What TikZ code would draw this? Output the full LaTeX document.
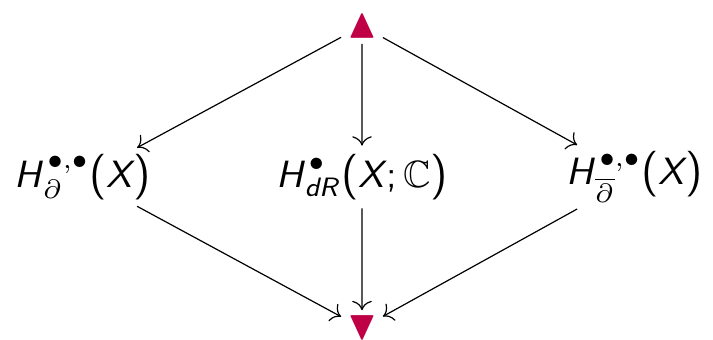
\documentclass[tikz,border=0pt]{standalone}
\usepackage{amsmath,amssymb}
\definecolor{mlred}{RGB}{192,0,70}
\usetikzlibrary{arrows.meta,positioning}
\newcommand{\sfi}[1]{\text{\sffamily\slshape #1\kern0.5pt}}
\newcommand{\sfu}[1]{\text{\sffamily #1}}
\newcommand{\bpar}[1]{\text{\sffamily\fontsize{12}{12}\selectfont\raisebox{-0.3pt}{#1}}}

\begin{document}
\begin{tikzpicture}[
  x=0.5pt, y=-0.5pt,
  cnode/.style={font=\normalsize, scale=1.9, transform shape, inner sep=1pt},
  tnode/.style={font=\huge, text=mlred, inner sep=1pt},
  arr/.style={-{To[scale=1.6]}, line width=0.6pt, shorten <=2pt, shorten >=2pt}
]
\useasboundingbox (0,0) rectangle (713,340);

% Triangles
\node[tnode] (top) at (362,26) {$\blacktriangle$};
\node[tnode] (bot) at (362,328) {$\blacktriangledown$};

% Cohomology nodes
\node[cnode] (dol)  at (83,177)
  {$\sfi{H}^{\kern1pt\bullet,\bullet}_{\partial}\bpar{(}\sfi{X}\bpar{)}$};
\node[cnode] (dR)   at (362,177)
  {$\sfi{H}^{\kern1pt\bullet}_{\sfi{dR}}\bpar{(}\sfi{X}\sfu{;}\,\mathbb{C}\bpar{)}$};
\node[cnode] (dolb) at (635,177)
  {$\sfi{H}^{\kern1pt\bullet,\bullet}_{\overline{\partial}}\bpar{(}\sfi{X}\bpar{)}$};

% Arrows
\draw[arr] (top) -- (dol);
\draw[arr] (top) -- (dR);
\draw[arr] (top) -- (dolb);
\draw[arr] (dol) -- (bot);
\draw[arr] (dR) -- (bot);
\draw[arr] (dolb) -- (bot);
\end{tikzpicture}
\end{document}
